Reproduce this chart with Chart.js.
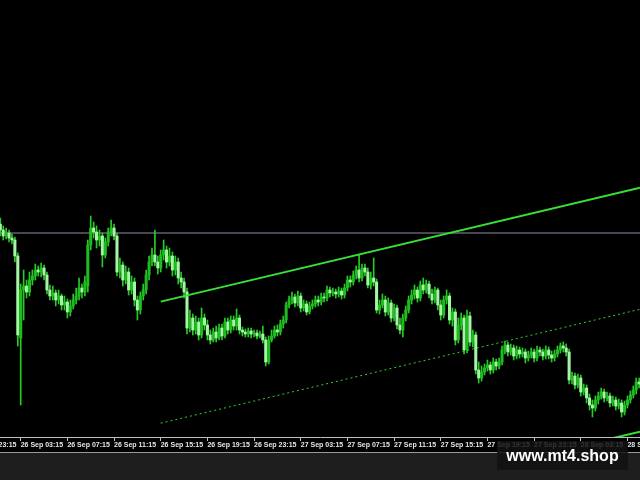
<!DOCTYPE html>
<html>
<head>
<meta charset="utf-8">
<script src="https://cdn.jsdelivr.net/npm/chart.js@4.4.1/dist/chart.umd.min.js"></script>
<style>
  html, body { margin: 0; padding: 0; width: 640px; height: 480px; overflow: hidden; background: #1e1e1e; }
  #wrap { position: absolute; left: 0; top: 0; width: 640px; height: 452px; background: #000; border-bottom: 1px solid #9a9a9a; }
  #mark { position: absolute; left: 497px; top: 441px; width: 131px; height: 29px; background: rgba(18,18,18,0.85);
          color: #fff; font: bold 16px "Liberation Sans", Arial, sans-serif; text-align: center; line-height: 29px; }
</style>
</head>
<body>
<div id="wrap"><canvas id="chart" width="640" height="452"></canvas></div>
<div id="mark">www.mt4.shop</div>
<script>
/* ── Données M15 : prix en points au-dessus de 1.3000 ───────────────────── */
const firstBar = -7;   // la 1re bougie visible, en barres depuis 26 Sep 03:15

const open = [
  213,207,201,204,199,197,181, 99,147,151, 145,157,161,167,165,169,162,147,141,144,
  137,141,132,135,125,131,137,141,149,145, 151,192,209,205,197,201,182,195,205,209,
  201,165,172,157,165,147,155,137,127,141, 147,162,175,182,175,169,182,187,175,181,
  167,175,159,155,145,109,119,107,115,102, 119,112,102, 97,105, 99,109,101,115,107,
  117,111,119,107,105,103,106,103,104,101, 103, 97, 75, 97,101,107,105,113,117,132,
  137,140,134,141,129,133,125,131,133,137, 135,140,139,147,144,145,143,146,142,149,
  157,155,162,167,159,169,165,152,159,155, 127,132,137,125,134,119,129,112,107,119,
  127,137,142,147,139,152,147,153,143,137, 147,132,122,137,141,117,125, 97,112,119,
   87,121, 95,102, 67, 59, 65, 69, 72, 67,  75, 71, 75, 87, 92, 85, 89, 81, 87, 83,
   85, 79, 82, 85, 79, 87, 85, 81, 87, 82,  79, 83, 87, 91, 89, 85, 57, 61, 52, 59,
   45, 49, 39, 32, 29, 37, 41, 45, 39, 41,  34, 37, 31, 34, 25, 32, 37, 42, 47, 55
];
const high = [
  219,211,209,207,203,200,184,153,167,157, 165,167,173,171,174,172,165,152,151,147,
  147,143,141,138,137,143,149,159,153,161, 197,221,215,211,207,204,199,209,217,213,
  204,179,175,171,169,161,159,141,145,153, 167,181,189,207,181,187,197,191,189,185,
  181,179,165,159,149,127,123,121,119,129, 123,117,107,109,111,113,113,119,119,121,
  121,128,122,110,108,109,109,107,107,106, 111,100,101,107,111,112,117,121,135,141,
  145,143,146,144,137,136,135,137,141,141, 144,144,151,150,149,148,150,149,153,161,
  161,166,171,182,173,173,169,165,179,158, 137,143,141,139,137,133,132,119,123,131,
  141,147,152,150,156,159,157,156,148,150, 149,137,141,147,144,129,128,119,124,122,
  127,125,107,105, 75, 71, 73, 77, 75, 79,  78, 79, 91, 96, 95, 93, 92, 91, 90, 89,
   88, 86, 89, 88, 91, 90, 88, 91, 90, 86,  87, 91, 94, 95, 93, 88, 65, 64, 63, 62,
   53, 52, 43, 37, 41, 45, 49, 48, 45, 44,  41, 40, 38, 37, 36, 41, 46, 51, 59, 59
];
const low = [
  201,197,198,195,193,175, 91, 32,117,139, 141,152,157,161,160,157,143,137,137,131,
  133,127,127,119,121,128,133,137,139,141, 145,187,199,189,191,170,179,191,201,197,
  161,159,151,153,142,143,131,117,123,137, 143,157,171,171,163,165,177,169,171,161,
  162,153,149,139,103,105,102,103, 97, 99, 107, 97, 93, 95, 95, 97, 97, 99,103,104,
  107,107,103,101,100,100, 99,100, 98, 99,  94, 71, 73, 95, 99,101,102,109,114,129,
  133,130,131,125,126,122,123,128,130,131, 132,135,136,140,141,139,140,138,139,146,
  150,152,158,155,156,161,149,148,151,124, 123,129,121,122,115,116,108,103,100,116,
  124,133,138,135,136,143,144,139,133,134, 127,117,119,133,113,111, 92, 94,107, 83,
   84, 91, 90, 63, 54, 56, 62, 66, 63, 64,  67, 68, 72, 83, 81, 82, 77, 78, 79, 80,
   74, 76, 79, 75, 76, 81, 77, 78, 78, 75,  76, 80, 84, 85, 81, 53, 53, 48, 49, 41,
   42, 34, 27, 20, 26, 33, 38, 35, 36, 30,  31, 27, 28, 20, 22, 29, 34, 39, 43, 49
];
const close = [
  207,201,204,199,197,181,102,147,151,145, 157,161,167,165,169,162,147,141,144,137,
  141,132,135,125,131,137,141,149,145,155, 192,209,205,197,201,182,195,205,209,201,
  165,172,157,165,147,155,137,127,141,147, 162,175,182,175,169,182,187,175,181,167,
  175,159,155,145,109,119,107,115,102,119, 112,102, 97,105, 99,109,101,115,107,117,
  111,119,107,105,103,106,103,104,101,103,  97, 75, 97,101,107,105,113,117,132,137,
  140,134,141,129,133,125,131,133,137,135, 140,139,147,144,145,143,146,142,149,157,
  155,162,167,159,169,165,152,159,155,127, 132,137,125,134,119,129,112,107,119,127,
  137,142,147,139,152,147,153,143,137,147, 132,122,137,141,117,125, 97,112,119, 87,
  121, 95,102, 67, 59, 65, 69, 72, 67, 75,  71, 75, 87, 92, 85, 89, 81, 87, 83, 85,
   79, 82, 85, 79, 87, 85, 81, 87, 82, 79,  83, 87, 91, 89, 85, 57, 61, 52, 59, 45,
   49, 39, 32, 29, 37, 41, 45, 39, 41, 34,  37, 31, 34, 25, 32, 37, 42, 47, 55, 53
];

// graduations de l'axe du temps (barres depuis 26 Sep 03:15)
const tickBars   = [-16, 0, 16, 32, 48, 64, 80, 96, 112, 128, 144, 160, 176, 192, 208];
const tickLabels = ['25 Sep 23:15', '26 Sep 03:15', '26 Sep 07:15', '26 Sep 11:15', '26 Sep 15:15',
                    '26 Sep 19:15', '26 Sep 23:15', '27 Sep 03:15', '27 Sep 07:15', '27 Sep 11:15',
                    '27 Sep 15:15', '27 Sep 19:15', '27 Sep 23:15', '28 Sep 03:15', '28 Sep 07:15'];

// objets graphiques (barre, points)
const levelLine   = [{ x: -7.1, y: 204 }, { x: 212.3, y: 204 }];
const upperTrend  = [{ x: 48, y: 135.4 }, { x: 212.3, y: 249.3 }];
const midTrend    = [{ x: 48, y: 13.8 },  { x: 212.3, y: 127.7 }];
const lowerTrend  = [{ x: 48, y: -108.6 },{ x: 212.3, y: 5.3 }];

const xMin = -7.1, xMax = 212.3;
const yMin = 0,    yMax = 437;

/* ── Couleurs ─────────────────────────────────────────────────────────── */
const BULL = '#1ebc1e';
const BEAR = '#a4f6a4';
const WICK = '#26cc26';
const LINE = '#36e036';

/* ── Chart ────────────────────────────────────────────────────────────── */
const barX   = close.map((_, i) => firstBar + i);
const bodies = barX.map((x, i) => ({ x, y: [open[i], close[i]] }));
const wicks  = barX.map((x, i) => ({ x, y: [low[i], high[i]] }));

const lineDs = (data, color, width, dash, order) => ({
  type: 'line', data, borderColor: color, borderWidth: width, borderDash: dash || [],
  pointRadius: 0, fill: false, tension: 0, order,
});

new Chart(document.getElementById('chart'), {
  type: 'bar',
  data: {
    datasets: [
      lineDs(upperTrend, LINE, 2, null, 0),
      lineDs(midTrend,   '#2fd02f', 1, [2, 3], 0),
      lineDs(lowerTrend, LINE, 2, null, 0),
      {
        data: bodies, grouped: false, barThickness: 2.4, borderWidth: 0, order: 1,
        backgroundColor: ctx => close[ctx.dataIndex] > open[ctx.dataIndex] ? BULL : BEAR,
      },
      { data: wicks, grouped: false, barThickness: 1, borderWidth: 0, order: 2, backgroundColor: WICK },
      lineDs(levelLine, '#9090a4', 1, null, 3),
    ],
  },
  options: {
    responsive: false,
    animation: false,
    events: [],
    layout: { padding: 0 },
    plugins: { legend: { display: false }, tooltip: { enabled: false } },
    scales: {
      x: {
        type: 'linear', min: xMin, max: xMax, offset: false,
        afterBuildTicks: a => { a.ticks = tickBars.map(v => ({ value: v })); },
        afterFit: a => { a.height = 15; a.paddingLeft = 0; a.paddingRight = 0; },
        ticks: {
          autoSkip: false, maxRotation: 0, minRotation: 0, align: 'start', padding: 0,
          color: '#e6e6e6', font: { family: 'Liberation Sans', size: 7, weight: 'bold' },
          callback: (v, i) => tickLabels[i],
        },
        grid: { drawOnChartArea: false, drawTicks: true, tickLength: 4, color: '#c0c0c0', offset: false },
        border: { display: true, color: '#c0c0c0', width: 1 },
      },
      y: { display: false, min: yMin, max: yMax },
    },
  },
});
</script>
</body>
</html>
